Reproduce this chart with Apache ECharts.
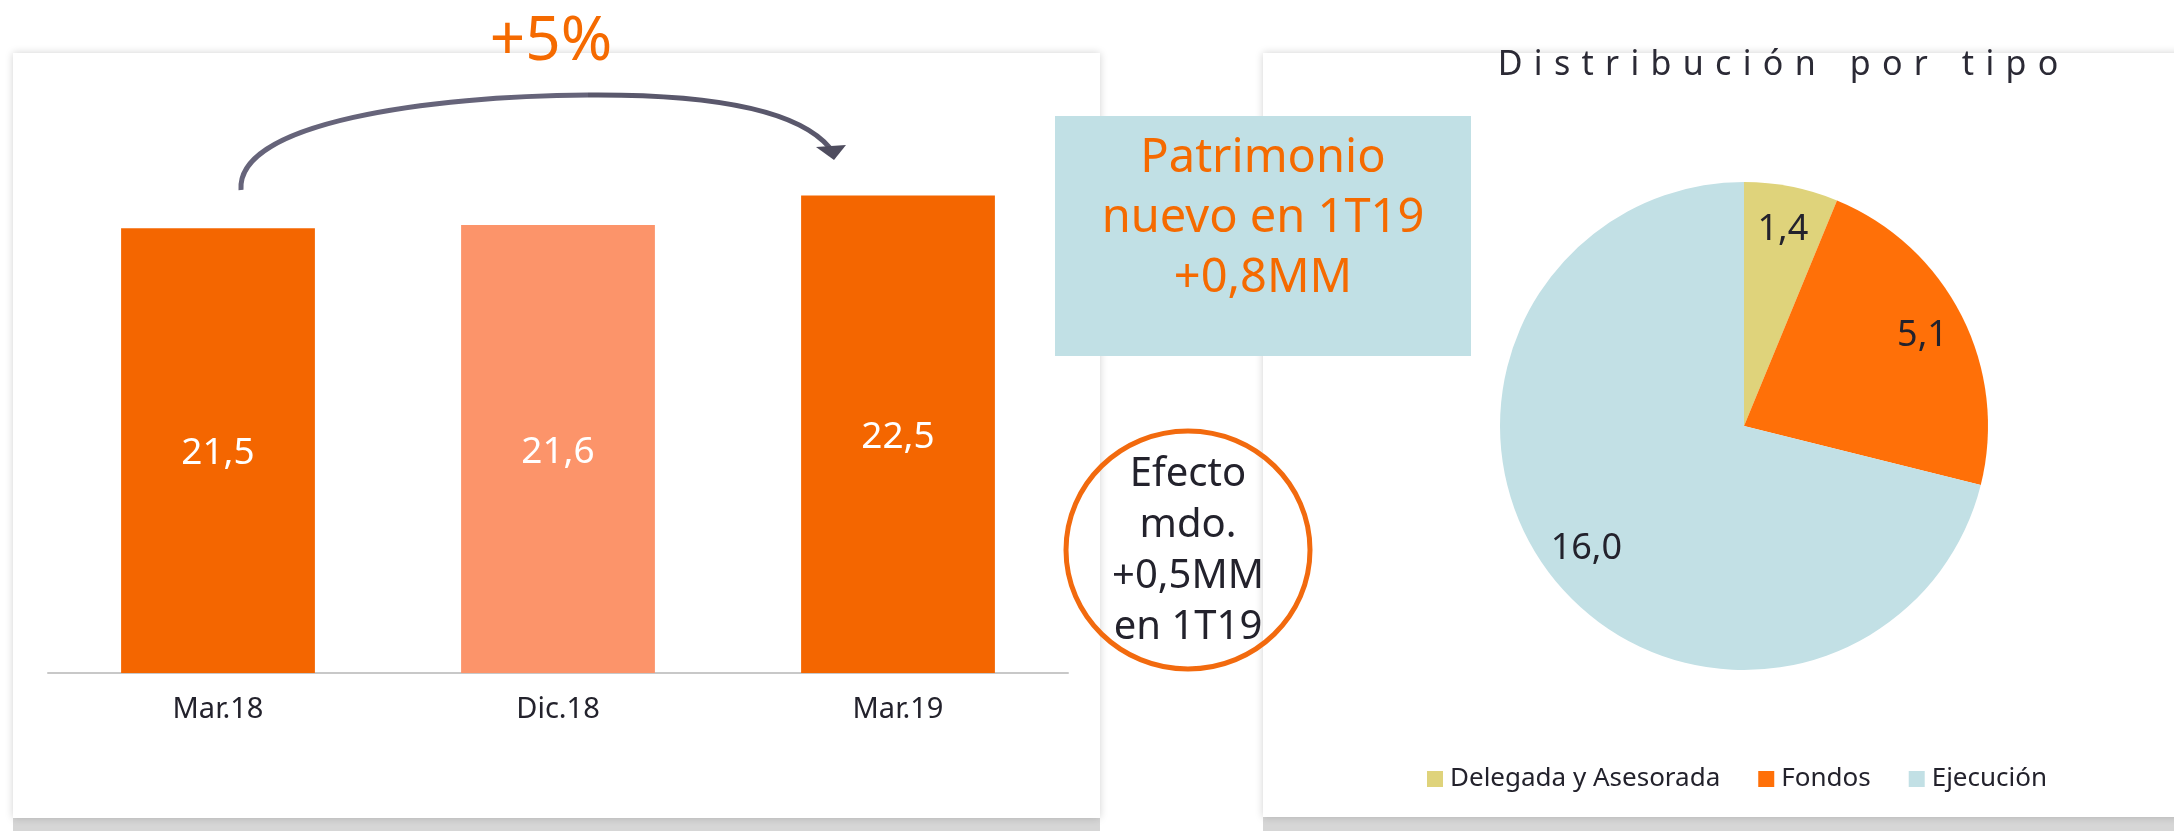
<!DOCTYPE html>
<html>
<head>
<meta charset="utf-8">
<script src="https://cdn.jsdelivr.net/npm/echarts@6/dist/echarts.min.js"></script>
<style>
  html, body { margin: 0; padding: 0; background: #fff; }
  #chart { width: 2174px; height: 831px; }
</style>
</head>
<body>
<div id="chart"></div>
<script>
// Datos
const categories = ['Mar.18', 'Dic.18', 'Mar.19'];
const patrimonio = [21.5, 21.6, 22.5];
const tipoNames = ['Delegada y Asesorada', 'Fondos', 'Ejecución'];
const tipoValues = [1.4, 5.1, 16.0];

const COLORS = {
    orange: '#F46600',
    salmon: '#FC946A',
    text: '#23222c',
    accentText: '#F56A00',
    box: '#C1E0E5',
    axis: '#c8c8c8',
    pie: ['#DFD37B', '#FF7008', '#C2E0E5'],
};
const FONT = '"Noto Sans", sans-serif';

function fmt(v) {
    return v.toFixed(1).replace('.', ',');
}

// título con espaciado amplio entre letras
const SP = '\u2004';
const title = 'Distribución por tipo'.split(' ')
    .map(w => w.split('').join(SP)).join(SP + SP + SP);

const pieData = tipoNames.map((n, i) => ({ name: n, value: tipoValues[i] }));

const chart = echarts.init(document.getElementById('chart'), null, { renderer: 'canvas' });
chart.setOption({
    backgroundColor: '#fff',
    animation: false,
    textStyle: { fontFamily: FONT },
    color: COLORS.pie,
    title: {
        text: title,
        left: 1773,
        top: 60,
        textAlign: 'center',
        textVerticalAlign: 'middle',
        textStyle: { fontSize: 34, fontWeight: 'normal', color: '#2b2a35', fontFamily: FONT },
    },
    legend: {
        data: tipoNames,
        left: 1422,
        top: 761,
        icon: 'rect',
        itemWidth: 16,
        itemHeight: 16,
        itemGap: 38,
        textStyle: { fontSize: 26, color: COLORS.text, fontFamily: FONT, padding: [0, 0, 0, 2] },
        selectedMode: false,
    },
    grid: { left: 48, right: 1106, top: 146, bottom: 158 },
    xAxis: {
        type: 'category',
        data: categories,
        axisLine: { lineStyle: { color: COLORS.axis, width: 2 } },
        axisTick: { show: false },
        axisLabel: { color: COLORS.text, fontSize: 29, margin: 22, fontFamily: FONT },
    },
    yAxis: { type: 'value', min: 8, max: 24, show: false },
    series: [
        {
            type: 'bar',
            data: patrimonio,
            barWidth: '57%',
            itemStyle: { color: p => p.dataIndex === 1 ? COLORS.salmon : COLORS.orange },
            label: {
                show: true,
                position: 'inside',
                offset: [0, 3],
                color: '#fff',
                fontSize: 37,
                fontFamily: FONT,
                formatter: p => fmt(p.value),
            },
        },
        {
            type: 'pie',
            center: [1744, 426],
            radius: 244,
            startAngle: 90,
            clockwise: true,
            silent: true,
            data: pieData,
            label: { show: false },
            labelLine: { show: false },
        },
        {
            // capa transparente solo para colocar etiquetas hacia el borde
            type: 'pie',
            center: [1744, 426],
            radius: [150, 244],
            startAngle: 90,
            clockwise: true,
            silent: true,
            data: pieData,
            itemStyle: { color: 'transparent' },
            label: {
                show: true,
                position: 'inside',
                color: COLORS.text,
                fontSize: 36,
                fontFamily: FONT,
                formatter: p => fmt(p.value),
            },
            labelLine: { show: false },
        },
    ],
    graphic: [
        // tarjetas de fondo
        { type: 'rect', z: -10, shape: { x: 13, y: 818, width: 1087, height: 13 }, style: { fill: '#d6d6d6' } },
        { type: 'rect', z: -10, shape: { x: 1263, y: 817, width: 911, height: 14 }, style: { fill: '#d6d6d6' } },
        { type: 'rect', z: -9, shape: { x: 13, y: 53, width: 1087, height: 765 },
          style: { fill: '#fff', shadowBlur: 8, shadowColor: 'rgba(0,0,0,0.18)' } },
        { type: 'rect', z: -9, shape: { x: 1263, y: 53, width: 930, height: 764 },
          style: { fill: '#fff', shadowBlur: 8, shadowColor: 'rgba(0,0,0,0.18)' } },
        // +5% y flecha
        { type: 'text', z: 20, style: { text: '+5%', x: 551, y: 42, align: 'center', verticalAlign: 'middle',
          font: '62px ' + FONT, fill: COLORS.accentText } },
        { type: 'bezierCurve', z: 20, shape: { x1: 241, y1: 190, cpx1: 236, cpy1: 122, cpx2: 430, cpy2: 96, x2: 588, y2: 95 },
          style: { stroke: '#66647a', lineWidth: 5, fill: null } },
        { type: 'bezierCurve', z: 20, shape: { x1: 588, y1: 95, cpx1: 720, cpy1: 94, cpx2: 800, cpy2: 112, x2: 830, y2: 148 },
          style: { stroke: '#5a586c', lineWidth: 5, fill: null } },
        { type: 'polygon', z: 20, shape: { points: [[816, 147], [846, 145], [834, 160]] }, style: { fill: '#4e4c5e' } },
        // recuadro patrimonio nuevo
        { type: 'rect', z: 20, shape: { x: 1055, y: 116, width: 416, height: 240 }, style: { fill: COLORS.box } },
        { type: 'text', z: 21, style: { text: 'Patrimonio\nnuevo en 1T19\n+0,8MM', x: 1263, y: 219, align: 'center',
          verticalAlign: 'middle', font: '47px ' + FONT, lineHeight: 60, fill: COLORS.accentText } },
        // círculo efecto mercado
        { type: 'ellipse', z: 20, shape: { cx: 1188, cy: 550, rx: 122, ry: 119 },
          style: { fill: 'rgba(255,255,255,0)', stroke: '#F26A0E', lineWidth: 5 } },
        { type: 'text', z: 21, style: { text: 'Efecto\nmdo.\n+0,5MM\nen 1T19', x: 1188, y: 551, align: 'center',
          verticalAlign: 'middle', font: '40px ' + FONT, lineHeight: 51, fill: COLORS.text } },
    ],
});
window.addEventListener('resize', () => chart.resize());
</script>
</body>
</html>
